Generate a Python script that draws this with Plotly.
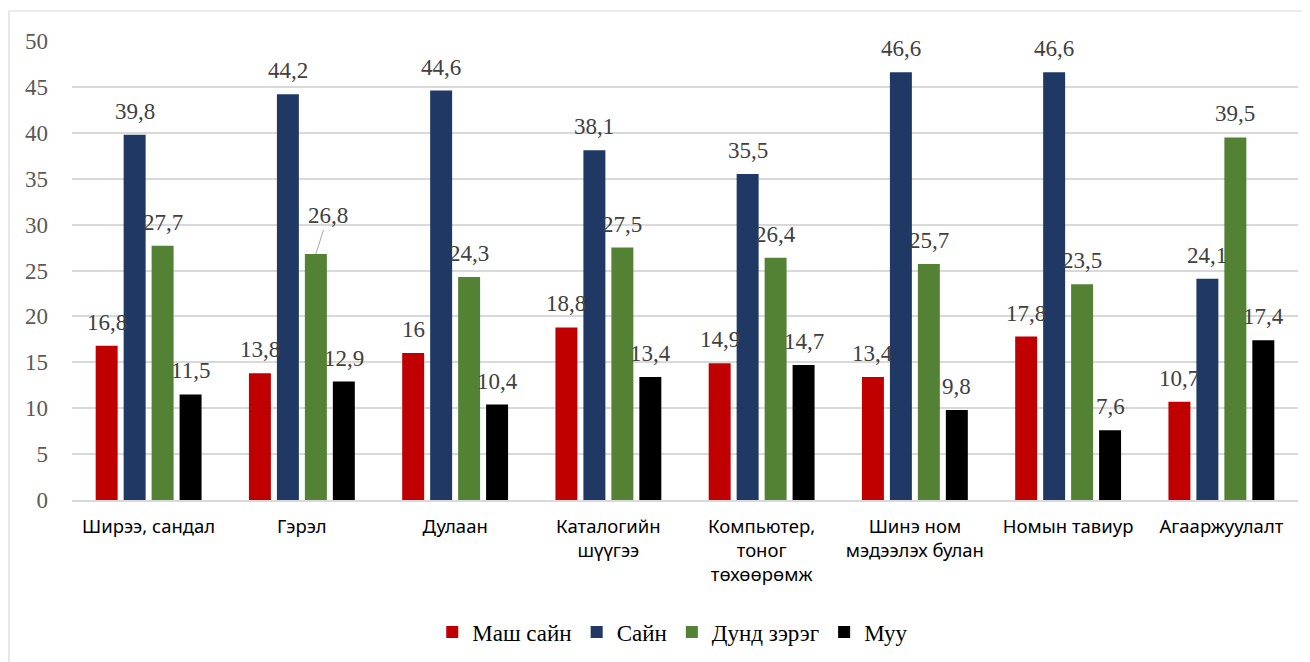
import plotly.graph_objects as go

categories = ["Ширээ, сандал", "Гэрэл", "Дулаан", "Каталогийн<br>шүүгээ",
              "Компьютер,<br>тоног<br>төхөөрөмж", "Шинэ ном<br>мэдээлэх булан",
              "Номын тавиур", "Агааржуулалт"]
series_names = ["Маш сайн", "Сайн", "Дунд зэрэг", "Муу"]
mash_sain = [16.8, 13.8, 16.0, 18.8, 14.9, 13.4, 17.8, 10.7]
sain = [39.8, 44.2, 44.6, 38.1, 35.5, 46.6, 46.6, 24.1]
dund = [27.7, 26.8, 24.3, 27.5, 26.4, 25.7, 23.5, 39.5]
muu = [11.5, 12.9, 10.4, 13.4, 14.7, 9.8, 7.6, 17.4]
y_ticks = [0, 5, 10, 15, 20, 25, 30, 35, 40, 45, 50]

colors = ["#C00000", "#1F3864", "#548235", "#000000"]
all_values = [mash_sain, sain, dund, muu]

SERIF = "Liberation Serif"

def fmt(v):
    s = ("%.1f" % v).rstrip("0").rstrip(".")
    return s.replace(".", ",")

fig = go.Figure()
for name, vals, col in zip(series_names, all_values, colors):
    fig.add_trace(go.Bar(x=categories, y=vals, name=name,
                         marker=dict(color=col, line=dict(width=0))))

annotations = []
slot = 28
for si, vals in enumerate(all_values):
    for ci, v in enumerate(vals):
        xs = (si - 1.5) * slot
        if si == 2 and ci == 1:
            annotations.append(dict(x=categories[ci], y=v, xref="x", yref="y",
                                    text=fmt(v), showarrow=True, arrowhead=0,
                                    arrowwidth=1, arrowcolor="#a6a6a6",
                                    ax=12, ay=-38, xshift=xs,
                                    font=dict(family=SERIF, size=23, color="#404040")))
        else:
            annotations.append(dict(x=categories[ci], y=v, xref="x", yref="y",
                                    text=fmt(v), showarrow=False, xshift=xs,
                                    yanchor="bottom", yshift=9,
                                    font=dict(family=SERIF, size=23, color="#404040")))

# page has an 8px body margin, so offsets compensate for it
L, R, T, B = 64, 20, 33, 170
W, H = 1310, 662
pw = W - L - R
ph = H - T - B

fig.update_layout(
    width=W, height=H,
    margin=dict(l=L, r=R, t=T, b=B, autoexpand=False),
    paper_bgcolor="white", plot_bgcolor="white",
    barmode="group", bargap=0.27, bargroupgap=0.214,
    annotations=annotations,
    showlegend=True,
    legend=dict(orientation="h", x=0.49, xanchor="center", y=(0 - 132) / ph,
                yanchor="middle",
                font=dict(family=SERIF, size=23, color="#000000"),
                itemwidth=30, tracegroupgap=0),
    shapes=[dict(type="rect", xref="paper", yref="paper",
                 x0=(1 - L) / pw, x1=1.2, y0=-0.6, y1=(H - B - 3) / ph,
                 line=dict(color="#d9d9d9", width=1.2), layer="below")],
)
fig.update_xaxes(showgrid=False, showline=True, linecolor="#d9d9d9", linewidth=1.5,
                 tickfont=dict(family="Noto Sans", size=18.5, color="#000000"),
                 ticklabelstandoff=9, automargin=False)
fig.update_yaxes(range=[0, 50], tickvals=y_ticks, showgrid=True, gridcolor="#d9d9d9",
                 gridwidth=1.5, zeroline=False, showline=False,
                 tickfont=dict(family=SERIF, size=23, color="#595959"),
                 ticklabelstandoff=23, automargin=False)

fig.write_html("out.html")
